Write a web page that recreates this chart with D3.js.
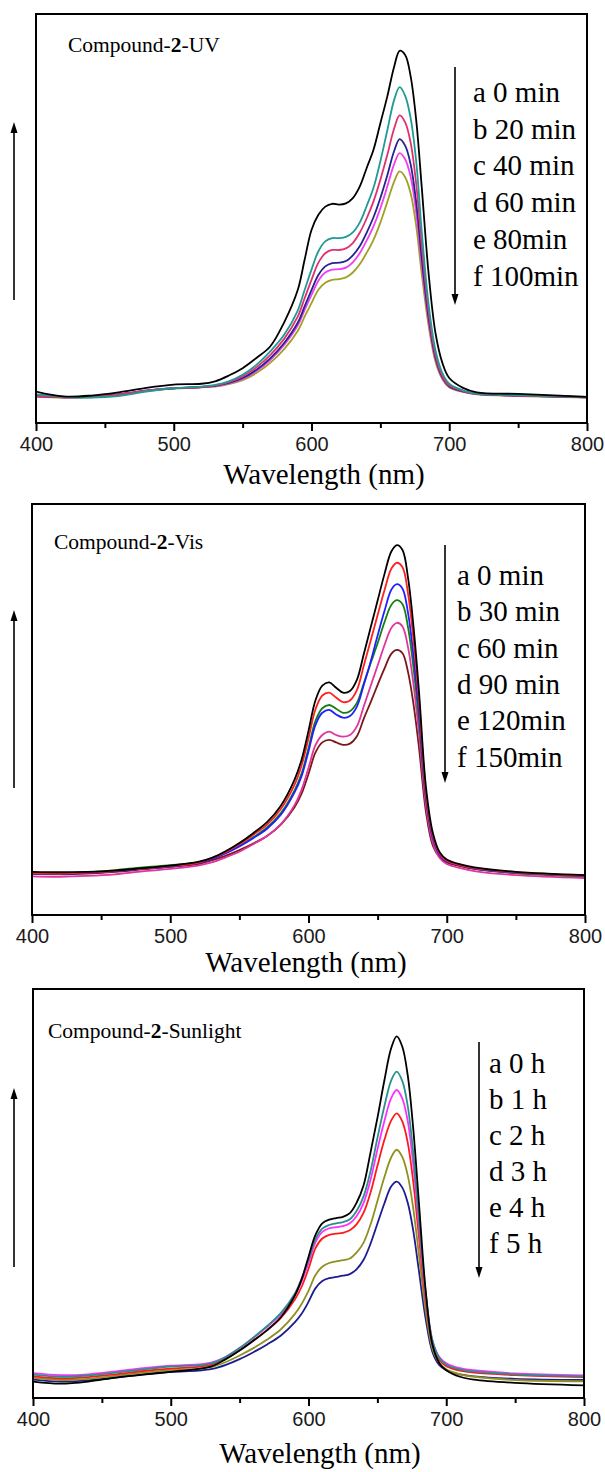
<!DOCTYPE html>
<html>
<head>
<meta charset="utf-8">
<script src="https://cdn.jsdelivr.net/npm/d3@7"></script>
<style>
  body { margin: 0; background: #fff; }
  svg { display: block; }
  .tick line { stroke: #000; stroke-width: 2; }
  .serif { font-family: "Liberation Serif", "Times New Roman", serif; fill: #000; }
</style>
</head>
<body>
<script>
// wavelength grid (nm) shared by all spectra
var wavelengths = [400, 420, 440, 460, 480, 500, 520, 530, 540, 550, 560, 570, 580, 590, 595, 600, 605, 610, 615, 620, 625, 630, 635, 640, 645, 650, 655, 660, 664, 668, 672, 676, 680, 685, 690, 695, 700, 710, 720, 750, 800];
var majorTicks = [400, 500, 600, 700, 800];
var minorTicks = [450, 550, 650, 750];

// Compound-2-UV (absorbance, a.u.)
var uvLabels = ["a 0 min", "b 20 min", "c 40 min", "d 60 min", "e 80min", "f 100min"];
var uvA = [.077, .065, .067, .075, .086, .094, .096, .102, .116, .134, .159, .187, .245, .325, .399, .472, .509, .529, .536, .534, .537, .550, .578, .623, .668, .733, .798, .871, .910, .900, .847, .741, .578, .366, .220, .147, .110, .086, .075, .071, .064];
var uvB = [.070, .064, .062, .066, .077, .085, .089, .093, .102, .118, .142, .175, .215, .275, .325, .375, .420, .444, .452, .452, .455, .466, .490, .530, .575, .640, .715, .790, .821, .800, .745, .640, .470, .290, .178, .122, .096, .080, .072, .068, .064];
var uvC = [.066, .063, .064, .070, .079, .085, .088, .092, .100, .114, .136, .166, .205, .260, .305, .350, .392, .415, .423, .423, .427, .440, .465, .500, .542, .595, .655, .720, .752, .735, .685, .585, .435, .272, .166, .115, .092, .078, .071, .067, .063];
var uvD = [.066, .063, .064, .070, .079, .085, .088, .091, .098, .110, .130, .158, .195, .245, .285, .325, .362, .383, .391, .392, .396, .410, .432, .465, .503, .550, .605, .665, .694, .678, .632, .540, .405, .258, .160, .112, .090, .077, .071, .067, .063];
var uvE = [.065, .063, .064, .070, .079, .085, .088, .090, .097, .108, .127, .154, .190, .238, .276, .313, .348, .368, .375, .376, .380, .393, .415, .446, .481, .525, .578, .633, .660, .645, .602, .515, .388, .250, .157, .110, .089, .077, .071, .067, .063];
var uvF = [.064, .062, .063, .069, .078, .084, .087, .089, .095, .105, .122, .147, .180, .225, .260, .293, .326, .343, .350, .352, .356, .368, .388, .416, .448, .490, .540, .590, .615, .601, .561, .482, .365, .238, .150, .107, .087, .076, .070, .066, .062];

// Compound-2-Vis
var visLabels = ["a 0 min", "b 30 min", "c 60 min", "d 90 min", "e 120min", "f 150min"];
var visA = [.105, .104, .105, .108, .114, .120, .129, .139, .155, .175, .199, .226, .266, .330, .378, .448, .522, .558, .566, .553, .541, .545, .572, .635, .700, .765, .830, .885, .900, .888, .820, .700, .540, .310, .199, .152, .135, .123, .116, .105, .097];
var visB = [.102, .101, .103, .107, .113, .119, .127, .138, .153, .172, .195, .220, .258, .318, .364, .430, .500, .534, .541, .529, .518, .522, .547, .607, .668, .730, .791, .843, .857, .846, .782, .668, .517, .295, .192, .148, .132, .121, .114, .104, .096];
var visC = [.101, .100, .102, .106, .112, .118, .126, .136, .150, .167, .187, .210, .244, .299, .338, .398, .462, .492, .499, .488, .480, .484, .507, .560, .617, .680, .740, .792, .805, .794, .735, .629, .489, .285, .186, .145, .130, .120, .113, .103, .095];
var visD = [.103, .102, .104, .109, .116, .121, .128, .137, .151, .168, .189, .213, .248, .304, .344, .406, .472, .503, .511, .502, .492, .496, .516, .564, .613, .661, .713, .755, .766, .756, .700, .600, .470, .282, .188, .148, .132, .121, .113, .102, .094];
var visE = [.094, .093, .095, .099, .106, .112, .120, .128, .140, .154, .172, .192, .221, .268, .305, .358, .413, .438, .446, .438, .434, .438, .459, .508, .558, .607, .657, .699, .711, .702, .651, .560, .440, .265, .175, .138, .124, .114, .107, .097, .090];
var visF = [.100, .099, .101, .105, .111, .117, .124, .133, .144, .158, .174, .192, .220, .263, .295, .343, .395, .420, .426, .420, .414, .417, .435, .478, .518, .560, .600, .636, .645, .637, .591, .512, .405, .250, .168, .140, .128, .119, .112, .102, .095];

// Compound-2-Sunlight
var sunLabels = ["a 0 h", "b 1 h", "c 2 h", "d 3 h", "e 4 h", "f 5 h"];
var sunA = [.040, .035, .040, .050, .057, .064, .071, .078, .095, .116, .140, .166, .198, .250, .290, .345, .398, .427, .436, .440, .443, .452, .478, .520, .600, .684, .775, .855, .884, .860, .790, .660, .485, .265, .130, .085, .068, .052, .045, .037, .031];
var sunB = [.057, .052, .055, .062, .070, .077, .080, .085, .100, .122, .148, .176, .208, .255, .292, .338, .388, .414, .423, .427, .430, .437, .458, .493, .554, .635, .712, .776, .798, .776, .715, .600, .445, .260, .140, .098, .082, .070, .065, .058, .053];
var sunC = [.061, .056, .058, .065, .073, .079, .082, .087, .101, .122, .147, .174, .205, .250, .285, .330, .380, .406, .415, .418, .420, .427, .445, .477, .533, .607, .676, .733, .753, .733, .678, .572, .428, .255, .140, .100, .085, .073, .068, .060, .055];
var sunD = [.053, .048, .051, .058, .066, .072, .076, .082, .096, .117, .141, .166, .196, .240, .272, .316, .366, .390, .399, .402, .404, .410, .425, .453, .502, .567, .630, .678, .696, .677, .625, .530, .400, .240, .132, .093, .078, .067, .062, .056, .051];
var sunE = [.049, .044, .047, .054, .062, .068, .071, .076, .088, .104, .122, .143, .168, .205, .230, .262, .300, .321, .330, .334, .337, .341, .356, .380, .424, .481, .539, .588, .607, .590, .545, .465, .355, .215, .120, .085, .070, .058, .052, .044, .041];
var sunF = [.045, .040, .043, .050, .058, .064, .067, .071, .081, .095, .112, .131, .153, .185, .206, .235, .268, .286, .293, .296, .299, .303, .315, .338, .377, .426, .475, .517, .529, .515, .478, .410, .315, .195, .112, .080, .068, .058, .053, .047, .044];

var panels = [
  {
    name: "UV", series: [uvA, uvB, uvC, uvD, uvE, uvF], labels: uvLabels,
    colors: ["#000000", "#1f9a96", "#e0306e", "#23238f", "#f03ef0", "#a0a024"],
    left: 36, right: 587, top: 14, bottom: 423,
    titleX: 68, titleY: 52, xTitleX: 324, xTitleY: 484,
    legX: 473, legY: 102, legStep: 36.7,
    downX: 455, downTop: 67, downBot: 305, upTop: 122, upBot: 300
  },
  {
    name: "Vis", series: [visA, visB, visC, visD, visE, visF], labels: visLabels,
    colors: ["#000000", "#ff2020", "#2020ff", "#118011", "#e0359e", "#7a1818"],
    left: 32, right: 585, top: 504, bottom: 915,
    titleX: 54, titleY: 549, xTitleX: 306, xTitleY: 972,
    legX: 457, legY: 585, legStep: 36.3,
    downX: 445, downTop: 545, downBot: 783, upTop: 610, upBot: 788
  },
  {
    name: "Sunlight", series: [sunA, sunB, sunC, sunD, sunE, sunF], labels: sunLabels,
    colors: ["#000000", "#2a908c", "#ff30ff", "#ff1a1a", "#909022", "#1c1c90"],
    left: 33, right: 584, top: 989, bottom: 1398,
    titleX: 48, titleY: 1038, xTitleX: 320, xTitleY: 1463,
    legX: 489, legY: 1073, legStep: 36,
    downX: 479, downTop: 1042, downBot: 1278, upTop: 1088, upBot: 1267
  }
];

var svg = d3.select("body").append("svg")
    .attr("width", 605)
    .attr("height", 1472);

panels.forEach(drawPanel);

function drawPanel(p, pi) {
  var x = d3.scaleLinear().domain([400, 800]).range([p.left, p.right]);
  var y = d3.scaleLinear().domain([0, 1]).range([p.bottom, p.top]);
  var g = svg.append("g").attr("class", "panel " + p.name);

  g.append("clipPath").attr("id", "clip" + pi)
    .append("rect")
    .attr("x", p.left).attr("y", p.top)
    .attr("width", p.right - p.left).attr("height", p.bottom - p.top);

  var line = d3.line()
      .x(function(d, i) { return x(wavelengths[i]); })
      .y(function(d) { return y(d); })
      .curve(d3.curveCatmullRom.alpha(0.5));

  // draw f first so curve a sits on top
  var order = d3.range(p.series.length).reverse();
  g.append("g").attr("clip-path", "url(#clip" + pi + ")")
    .selectAll("path")
    .data(order)
    .enter().append("path")
      .attr("d", function(k) { return line(p.series[k]); })
      .attr("fill", "none")
      .attr("stroke", function(k) { return p.colors[k]; })
      .attr("stroke-width", 1.8)
      .attr("stroke-linejoin", "round");

  // frame
  g.append("rect")
    .attr("x", p.left).attr("y", p.top)
    .attr("width", p.right - p.left).attr("height", p.bottom - p.top)
    .attr("fill", "none").attr("stroke", "#000").attr("stroke-width", 2);

  var axisG = g.append("g").attr("transform", "translate(0," + p.bottom + ")");
  axisG.call(d3.axisBottom(x).tickValues(majorTicks).tickSize(8).tickPadding(6).tickFormat(d3.format("d")));
  axisG.select(".domain").remove();
  axisG.selectAll(".tick text")
    .style("font-family", "'Liberation Sans', Arial, sans-serif")
    .style("font-size", "20px")
    .style("fill", "#1a1a1a");
  var minorG = g.append("g").attr("transform", "translate(0," + p.bottom + ")");
  minorG.call(d3.axisBottom(x).tickValues(minorTicks).tickSize(5).tickFormat(""));
  minorG.select(".domain").remove();

  // x title
  g.append("text").attr("class", "serif")
    .attr("x", p.xTitleX).attr("y", p.xTitleY)
    .attr("text-anchor", "middle")
    .style("font-size", "29px")
    .text("Wavelength (nm)");

  // panel title with bold 2
  var t = g.append("text").attr("class", "serif")
    .attr("x", p.titleX).attr("y", p.titleY)
    .style("font-size", "21.5px");
  t.append("tspan").text("Compound-");
  t.append("tspan").attr("font-weight", "bold").text("2");
  t.append("tspan").text("-" + p.name);

  // legend text
  g.selectAll(".leg")
    .data(p.labels)
    .enter().append("text")
      .attr("class", "serif leg")
      .attr("x", p.legX)
      .attr("y", function(d, i) { return p.legY + i * p.legStep; })
      .style("font-size", "29px")
      .text(function(d) { return d; });

  // down arrow beside legend
  g.append("line")
    .attr("x1", p.downX).attr("x2", p.downX)
    .attr("y1", p.downTop).attr("y2", p.downBot - 8)
    .attr("stroke", "#000").attr("stroke-width", 1.6);
  g.append("path")
    .attr("d", "M" + (p.downX - 3.5) + "," + (p.downBot - 11) + "L" + (p.downX + 3.5) + "," + (p.downBot - 11) + "L" + p.downX + "," + p.downBot + "Z")
    .attr("fill", "#000");

  // up arrow on the left (absorbance axis)
  var ux = 14;
  g.append("line")
    .attr("x1", ux).attr("x2", ux)
    .attr("y1", p.upBot).attr("y2", p.upTop + 8)
    .attr("stroke", "#000").attr("stroke-width", 1.6);
  g.append("path")
    .attr("d", "M" + (ux - 3.5) + "," + (p.upTop + 11) + "L" + (ux + 3.5) + "," + (p.upTop + 11) + "L" + ux + "," + p.upTop + "Z")
    .attr("fill", "#000");
}
</script>
</body>
</html>
